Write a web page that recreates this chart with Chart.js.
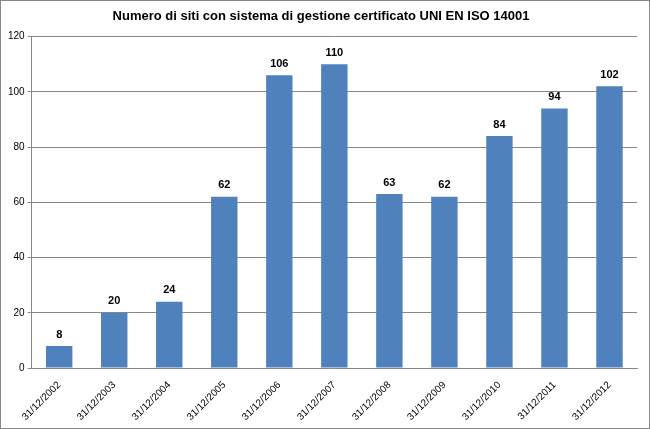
<!DOCTYPE html>
<html>
<head>
<meta charset="utf-8">
<script src="https://cdn.jsdelivr.net/npm/chart.js@4"></script>
<style>
  body { margin: 0; background: #fff; }
  #wrap { width: 648px; height: 427px; border: 1px solid #888; }
</style>
</head>
<body>
<div id="wrap"><canvas id="grafico" width="648" height="427"></canvas></div>
<script>
const categorie = ['31/12/2002', '31/12/2003', '31/12/2004', '31/12/2005', '31/12/2006', '31/12/2007',
  '31/12/2008', '31/12/2009', '31/12/2010', '31/12/2011', '31/12/2012'];
const siti = [8, 20, 24, 62, 106, 110, 63, 62, 84, 94, 102];

// etichette sopra le barre
const etichette = {
  id: 'etichette',
  afterDatasetsDraw(chart) {
    const ctx = chart.ctx;
    ctx.save();
    ctx.font = 'bold 11px "Liberation Sans", Arial';
    ctx.fillStyle = '#000';
    ctx.textAlign = 'center';
    ctx.textBaseline = 'bottom';
    chart.getDatasetMeta(0).data.forEach((bar, i) => {
      ctx.fillText(siti[i], bar.x, bar.y - 6);
    });
    ctx.restore();
  }
};

new Chart(document.getElementById('grafico').getContext('2d'), {
  type: 'bar',
  data: {
    labels: categorie,
    datasets: [{
      data: siti,
      backgroundColor: '#4F81BD',
      barPercentage: 0.48,
      categoryPercentage: 1
    }]
  },
  options: {
    responsive: false,
    animation: false,
    layout: { padding: { left: 4, right: 12, top: 0, bottom: 2 } },
    plugins: {
      legend: { display: false },
      tooltip: { enabled: false },
      title: {
        display: true,
        text: 'Numero di siti con sistema di gestione certificato UNI EN ISO 14001',
        color: '#000',
        font: { family: '"Liberation Sans", Arial', size: 13, weight: 'bold' },
        padding: { top: 8, bottom: 12 }
      }
    },
    scales: {
      x: {
        grid: { display: false },
        border: { color: '#888' },
        ticks: {
          color: '#000', maxRotation: 45, minRotation: 45,
          font: { family: '"Liberation Sans", Arial', size: 10 }
        }
      },
      y: {
        min: 0, max: 120,
        ticks: { stepSize: 20, color: '#000', font: { family: '"Liberation Sans", Arial', size: 10 } },
        grid: { color: '#888', tickLength: 4 },
        border: { color: '#888' }
      }
    }
  },
  plugins: [etichette]
});
</script>
</body>
</html>
